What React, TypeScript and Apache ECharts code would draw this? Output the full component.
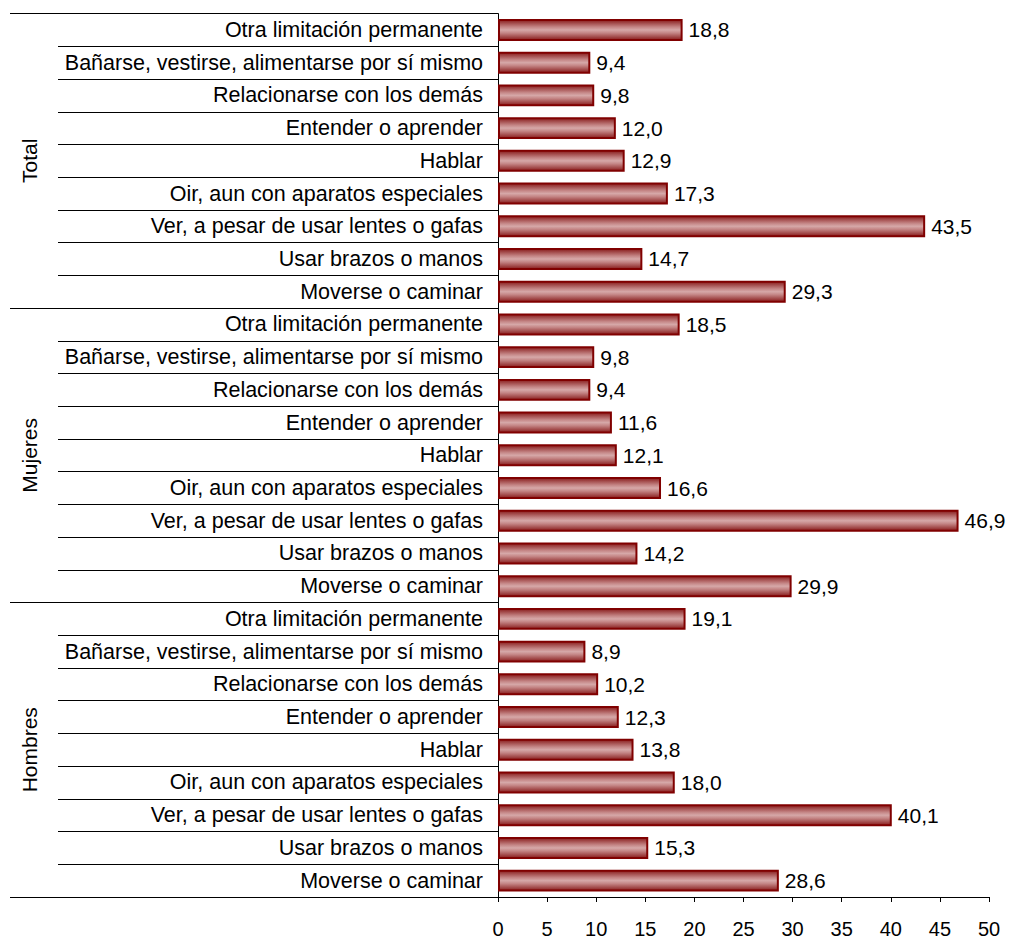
import React, { useEffect, useRef } from "react";
import * as echarts from "echarts";

// Categories listed bottom-to-top (ECharts category y axis order)
const itemNames = [
  "Moverse o caminar",
  "Usar brazos o manos",
  "Ver, a pesar de usar lentes o gafas",
  "Oir, aun con aparatos especiales",
  "Hablar",
  "Entender o aprender",
  "Relacionarse con los demás",
  "Bañarse, vestirse, alimentarse por sí mismo",
  "Otra limitación permanente",
];
const groups = ["Hombres", "Mujeres", "Total"];
const hombres = [28.6, 15.3, 40.1, 18.0, 13.8, 12.3, 10.2, 8.9, 19.1];
const mujeres = [29.9, 14.2, 46.9, 16.6, 12.1, 11.6, 9.4, 9.8, 18.5];
const total = [29.3, 14.7, 43.5, 17.3, 12.9, 12.0, 9.8, 9.4, 18.8];
const xTicks = [0, 50, 5];

export default function App() {
  const ref = useRef<HTMLDivElement>(null);
  useEffect(() => {
    document.body.style.margin = "0";
    const chart = echarts.init(ref.current!, null, { renderer: "svg" });
    const categories = [...itemNames, ...itemNames, ...itemNames];
    const values = [...hombres, ...mujeres, ...total];
    const font = "'Liberation Sans', Arial, sans-serif";
    chart.setOption({
      animation: false,
      backgroundColor: "#fff",
      grid: { left: 498, right: 22, top: 13.6, bottom: 37, containLabel: false },
      xAxis: {
        type: "value",
        min: xTicks[0],
        max: xTicks[1],
        interval: xTicks[2],
        axisLine: { show: true, lineStyle: { color: "#000", width: 1 } },
        axisTick: { show: true, length: 5, lineStyle: { color: "#000" } },
        axisLabel: { color: "#000", fontSize: 20, fontFamily: font, margin: 22 },
        splitLine: { show: false },
      },
      yAxis: [
        {
          type: "category",
          data: categories,
          position: "left",
          axisLine: { show: true, lineStyle: { color: "#000", width: 1 } },
          axisTick: { show: true, length: 440, interval: 0, lineStyle: { color: "#000" } },
          axisLabel: { color: "#000", fontSize: 21.5, fontFamily: font, margin: 15, interval: 0 },
        },
        {
          type: "category",
          data: groups,
          position: "left",
          axisLine: { show: false },
          axisTick: { show: true, length: 488, interval: 0, lineStyle: { color: "#000" } },
          axisLabel: { color: "#000", fontSize: 21, fontFamily: font, rotate: 90, margin: 458, interval: 0 },
        },
      ],
      series: [
        {
          type: "bar",
          yAxisIndex: 0,
          data: values,
          barWidth: "67%",
          itemStyle: {
            borderColor: "#800000",
            borderWidth: 2,
            color: new echarts.graphic.LinearGradient(0, 0, 0, 1, [
              { offset: 0, color: "#8a1c1c" },
              { offset: 0.15, color: "#a24a4a" },
              { offset: 0.35, color: "#c48585" },
              { offset: 0.5, color: "#d6a8a8" },
              { offset: 0.65, color: "#c48585" },
              { offset: 0.85, color: "#a24a4a" },
              { offset: 1, color: "#8a1c1c" },
            ]),
          },
          label: {
            show: true,
            position: "right",
            distance: 6,
            color: "#000",
            fontSize: 21,
            fontFamily: font,
            formatter: (p: any) => p.value.toFixed(1).replace(".", ","),
          },
        },
      ],
    });
    return () => chart.dispose();
  }, []);
  return <div ref={ref} style={{ width: 1011, height: 939 }} />;
}
